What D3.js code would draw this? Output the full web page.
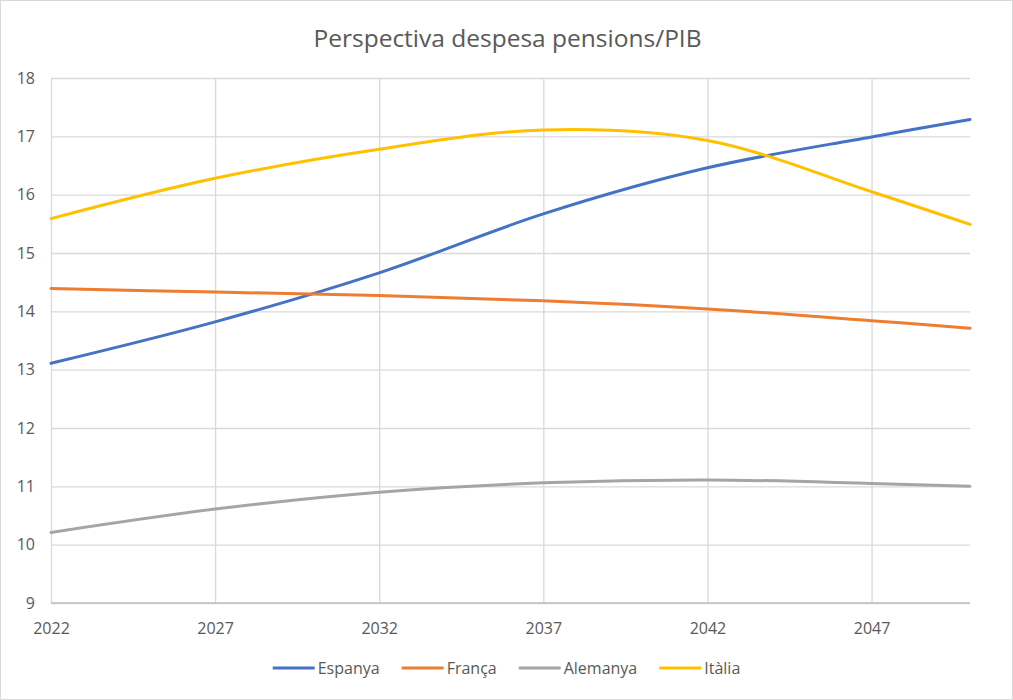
<!DOCTYPE html>
<html lang="ca">
<head>
<meta charset="UTF-8">
<title>Perspectiva despesa pensions/PIB</title>
<script src="https://cdnjs.cloudflare.com/ajax/libs/d3/7.8.4/d3.min.js"></script>
<style>
  html, body { margin: 0; padding: 0; background: #fff; }
  svg { display: block; font-family: "Segoe UI", "Open Sans", "Noto Sans", sans-serif; }
</style>
</head>
<body>
<div id="chart"></div>
<script>
// values at the gridlines
const years    = [2022, 2027, 2032, 2037, 2042, 2047, 2050];
const espanya  = [13.11, 13.82, 14.66, 15.67, 16.46, 16.99, 17.29];
const franca   = [14.39, 14.33, 14.27, 14.18, 14.04, 13.84, 13.71];
const alemanya = [10.21, 10.61, 10.90, 11.06, 11.11, 11.05, 11.00];
const italia   = [15.59, 16.28, 16.78, 17.11, 16.93, 16.05, 15.49];

const seriesNames = ["Espanya", "França", "Alemanya", "Itàlia"];
const seriesColors = ["#4472C4", "#ED7D31", "#A5A5A5", "#FFC000"];
const xTicks = [2022, 2027, 2032, 2037, 2042, 2047];
const yTicks = [9, 10, 11, 12, 13, 14, 15, 16, 17, 18];

const series = [espanya, franca, alemanya, italia].map((vals, i) => ({
  name: seriesNames[i],
  color: seriesColors[i],
  values: years.map((y, j) => ({ year: y, v: vals[j] }))
}));

const w = 1013, h = 700;
const plotL = 51, plotR = 970, plotT = 78, plotB = 603;

const svg = d3.select("#chart").append("svg")
  .attr("width", w).attr("height", h);

// outer border
svg.append("rect")
  .attr("x", 0.5).attr("y", 0.5)
  .attr("width", w - 1).attr("height", h - 1)
  .attr("fill", "#fff").attr("stroke", "#d9d9d9");

const x = d3.scaleLinear().domain([2022, 2050]).range([plotL, plotR]);
const y = d3.scaleLinear().domain([9, 18]).range([plotB, plotT]);

// horizontal gridlines + y labels
const yAxis = d3.axisLeft(y).tickValues(yTicks).tickSize(-(plotR - plotL)).tickPadding(16);
const gy = svg.append("g").attr("transform", `translate(${plotL},0)`).call(yAxis);
gy.select(".domain").remove();
gy.selectAll(".tick line").attr("stroke", "#d9d9d9").attr("stroke-width", 1.3);
gy.selectAll(".tick text")
  .attr("fill", "#595959").attr("font-size", 16)
  .attr("font-family", "'Segoe UI', 'Open Sans', 'Noto Sans', sans-serif");

// vertical gridlines + x labels
const xAxis = d3.axisBottom(x).tickValues(xTicks).tickSize(-(plotB - plotT)).tickPadding(20).tickFormat(d3.format("d"));
const gx = svg.append("g").attr("transform", `translate(0,${plotB})`).call(xAxis);
gx.select(".domain").remove();
gx.selectAll(".tick line").attr("stroke", "#d9d9d9").attr("stroke-width", 1.3);
gx.selectAll(".tick text")
  .attr("fill", "#595959").attr("font-size", 16)
  .attr("font-family", "'Segoe UI', 'Open Sans', 'Noto Sans', sans-serif");

// bottom axis line
svg.append("line")
  .attr("x1", plotL).attr("x2", plotR)
  .attr("y1", plotB).attr("y2", plotB)
  .attr("stroke", "#bfbfbf").attr("stroke-width", 1.3);

// lines
const line = d3.line()
  .x(d => x(d.year))
  .y(d => y(d.v))
  .curve(d3.curveCatmullRom.alpha(0.5));

svg.append("g").selectAll("path")
  .data(series)
  .join("path")
  .attr("fill", "none")
  .attr("stroke", d => d.color)
  .attr("stroke-width", 3)
  .attr("stroke-linecap", "round")
  .attr("d", d => line(d.values));

// title
svg.append("text")
  .attr("x", w / 2 + 1).attr("y", 47)
  .attr("text-anchor", "middle")
  .attr("fill", "#595959")
  .attr("font-size", 24.5)
  .text("Perspectiva despesa pensions/PIB");

// legend
const legend = svg.append("g");
const legY = 668;
let cx = 0;
series.forEach((s, i) => {
  const g = legend.append("g").attr("transform", `translate(${cx},0)`);
  g.append("line")
    .attr("x1", 0).attr("x2", 42)
    .attr("y1", legY).attr("y2", legY)
    .attr("stroke", s.color).attr("stroke-width", 3);
  const t = g.append("text")
    .attr("x", 45).attr("y", legY + 5.5)
    .attr("fill", "#595959").attr("font-size", 16)
    .text(s.name);
  cx += 45 + t.node().getComputedTextLength() + 22;
});
cx -= 22;
legend.attr("transform", `translate(${(w - cx) / 2},0)`);
</script>
</body>
</html>
